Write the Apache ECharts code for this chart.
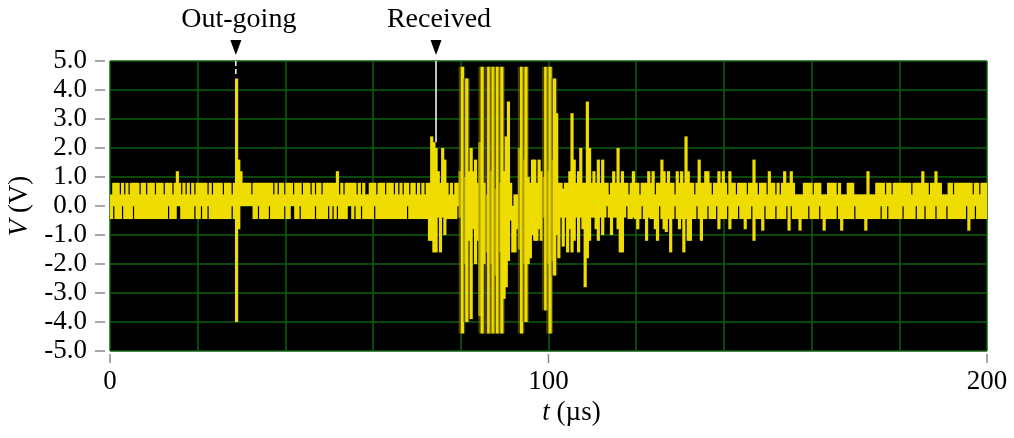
<!DOCTYPE html>
<html><head><meta charset="utf-8">
<script src="https://cdn.jsdelivr.net/npm/echarts@6/dist/echarts.min.js"></script>
<style>html,body{margin:0;padding:0;background:#fff}#c{width:1014px;height:438px}</style>
</head><body><div id="c"></div>
<script>
// sampling bin width (µs); bin i spans [i*binWidth, (i+1)*binWidth]
const binWidth = 0.5;
// per-bin maximum of the trace (V), 20 bins per row (10 µs)
const vHigh = [
0.4,0.8,0.8,0.8,0.4,0.8,0.4,0.8,0.4,0.8, 0.8,0.8,0.8,0.4,0.8,0.8,0.4,0.8,0.8,0.8,
0.4,0.8,0.8,0.8,0.4,0.8,0.8,0.8,0.4,0.8, 1.2,0.8,0.4,0.8,0.4,0.8,0.4,0.8,0.4,0.8,
0.8,0.8,0.8,0.8,0.4,0.8,0.4,0.8,0.8,0.8, 0.8,0.4,0.8,0.8,0.8,0.4,0.8,4.4,1.6,1.2,
0.8,0.8,0.8,0.8,0.4,0.8,0.8,0.8,0.8,0.8, 0.8,0.8,0.8,0.8,0.4,0.8,0.4,0.8,0.8,0.4,
0.8,0.8,0.8,0.4,0.8,0.8,0.8,0.4,0.8,0.8, 0.8,0.4,0.8,0.4,0.8,0.8,0.4,0.8,0.8,0.8,
0.8,0.8,0.8,1.2,0.4,0.8,0.4,0.8,0.8,0.8, 0.8,0.8,0.4,0.8,0.4,0.8,0.4,0.4,0.8,0.8,
0.8,0.4,0.8,0.8,0.8,0.4,0.8,0.8,0.8,0.4, 0.8,0.4,0.8,0.4,0.8,0.8,0.4,0.8,0.8,0.4,
0.8,0.4,0.8,0.4,0.8,0.8,2.4,2.2,2.0,1.2, 0.8,2.0,1.6,0.8,0.4,0.8,0.4,0.8,0.8,1.2,
4.8,1.0,4.4,1.2,2.0,1.2,1.6,0.8,2.2,4.8, 0.8,0.4,4.8,1.2,4.8,0.6,4.8,0.8,4.8,1.2,
2.4,3.6,0.8,0.0,0.4,0.4,2.0,4.8,1.6,4.8, 1.0,0.8,1.6,1.6,0.8,1.6,1.2,1.0,4.8,1.2,
4.8,1.6,4.4,3.2,0.8,0.8,0.6,0.8,0.8,1.2, 3.2,1.6,0.8,1.2,2.0,0.8,0.8,3.6,2.0,0.8,
1.2,0.8,1.6,0.8,1.6,0.8,0.8,0.4,0.8,1.2, 0.8,2.0,0.8,1.2,0.8,0.8,0.4,0.8,1.2,0.8,
0.8,0.4,0.8,0.8,0.8,1.2,0.8,1.2,0.4,0.8, 0.8,1.6,1.2,0.8,1.2,0.8,0.8,0.4,1.2,0.8,
1.2,0.8,2.4,1.2,0.8,0.8,0.4,0.8,1.6,0.8, 0.8,1.2,1.2,0.8,0.4,0.8,0.8,1.2,0.8,1.2,
0.8,0.4,1.2,0.8,0.8,0.4,0.8,0.8,0.8,0.8, 0.4,0.8,0.8,1.6,0.8,0.4,0.8,0.8,0.8,0.4,
1.2,0.8,0.8,0.4,0.8,0.4,0.8,1.2,0.8,0.8, 1.2,0.8,0.4,0.4,0.4,0.4,0.8,0.8,0.8,0.8,
0.4,0.8,0.8,0.8,0.4,0.4,0.4,0.8,0.8,0.8, 0.8,0.4,0.8,0.4,0.4,0.4,0.8,0.8,0.8,0.4,
0.4,0.4,0.4,0.4,0.4,1.2,0.4,0.4,0.4,0.8, 0.8,0.8,0.8,0.4,0.8,0.8,0.4,0.8,0.8,0.8,
0.8,0.8,0.8,0.8,0.8,0.4,0.8,0.8,0.8,0.8, 1.2,0.8,0.8,0.4,0.8,0.8,1.2,0.8,0.8,0.4,
0.4,0.4,0.8,0.8,0.4,0.8,0.8,0.8,0.8,0.8, 0.8,0.8,0.8,0.4,0.8,0.8,0.4,0.8,0.8,0.8
];
// per-bin minimum of the trace (V)
const vLow = [
-0.45,0,-0.45,-0.45,-0.45,0,-0.45,-0.45,-0.45,-0.45, 0,-0.45,-0.45,-0.45,-0.45,-0.45,-0.45,-0.45,-0.45,-0.45,
-0.45,-0.45,-0.45,-0.45,-0.45,-0.45,0,-0.45,-0.45,-0.45, 0,0,-0.45,-0.45,-0.45,-0.45,-0.45,-0.45,0,-0.45,
-0.45,0,-0.45,-0.45,0,-0.45,-0.45,-0.45,-0.45,-0.45, -0.45,-0.45,-0.45,-0.45,-0.45,0,-0.45,-4.0,-0.8,0,
0,0,0,0,0,-0.45,-0.45,0,-0.45,-0.45, -0.45,-0.45,0,-0.45,-0.45,-0.45,-0.45,-0.45,-0.45,0,
-0.45,-0.45,0,0,-0.45,-0.45,0,-0.45,-0.45,-0.45, -0.45,-0.45,-0.45,0,-0.45,-0.45,-0.45,-0.45,-0.45,0,
-0.45,0,-0.45,0,-0.45,-0.45,-0.45,-0.45,0,0, -0.45,0,-0.45,-0.45,0,-0.45,-0.45,-0.45,-0.45,-0.45,
0,-0.45,-0.45,-0.45,-0.45,-0.45,-0.45,-0.45,-0.45,-0.45, -0.45,-0.45,-0.45,-0.45,-0.45,0,-0.45,-0.45,-0.45,-0.45,
-0.45,-0.45,-0.45,-0.45,-0.45,-1.2,-1.2,-1.6,-1.6,-0.4, -1.6,-0.4,-1.0,-0.45,-0.45,-0.45,-0.45,-0.45,0,-0.4,
-4.4,-2.0,-4.0,-1.2,-3.9,-0.8,-2.0,-1.2,-3.8,-4.4, -2.0,-1.6,-4.4,-2.0,-4.4,-2.4,-4.4,-1.6,-4.4,-3.2,
-2.8,-1.9,-0.5,-1.6,-1.6,-0.8,-1.5,-4.4,-2.0,-4.0, -2.0,-1.8,-1.0,-1.2,-1.2,-0.8,-1.2,-0.4,-3.6,-2.0,
-4.4,-1.9,-2.4,-1.0,-1.8,-0.4,-1.4,-0.4,-1.6,-0.8, -1.6,-1.2,-0.4,-1.6,-0.4,-0.8,-2.8,-1.8,-1.2,-0.4,
-0.4,-0.8,-1.2,-0.4,-1.0,-0.4,0,-0.4,-1.0,-0.4, -0.4,-0.8,-1.6,-1.6,-0.4,0,-0.45,-0.45,-0.4,-0.45,
-0.8,-0.45,0,-0.45,-1.2,-0.4,-0.45,-0.45,-0.8,-1.2, 0,-0.45,-0.8,-0.9,-0.45,-1.6,-0.45,0,-0.45,-0.8,
-0.45,-1.6,-0.45,-1.2,-1.2,-0.45,-0.45,0,-0.45,-1.2, -0.45,-0.45,0,-0.45,-0.45,-0.45,0,-0.8,-0.45,-0.45,
-0.45,0,-0.8,-0.45,-0.45,-0.45,0,-0.45,-0.45,-0.8, -0.45,-0.45,0,-1.2,-0.45,-0.45,-0.45,-0.85,0,-0.45,
-0.45,-0.45,-0.45,0,-0.45,-0.45,-0.45,-0.45,0,-0.85, 0,-0.45,-0.45,-0.45,-0.85,-0.45,-0.45,-0.45,0,-0.45,
-0.45,-0.45,-0.45,0,-0.45,-0.85,-0.45,-0.45,-0.45,-0.45, -0.45,0,-0.45,-0.85,-0.45,-0.45,-0.45,-0.45,-0.45,0,
-0.45,-0.45,-0.45,-0.45,-0.85,-0.45,-0.45,-0.45,-0.45,-0.45, -0.45,0,-0.45,-0.45,0,-0.45,-0.45,-0.45,-0.45,-0.45,
-0.45,0,-0.45,-0.45,-0.45,-0.45,-0.45,0,-0.45,-0.45, -0.45,0,-0.45,-0.45,-0.45,-0.45,0,-0.45,-0.45,-0.45,
-0.45,0,-0.45,-0.45,-0.45,-0.45,-0.45,-0.45,-0.45,-0.45, 0,-0.85,-0.45,-0.45,0,-0.45,-0.45,-0.45,-0.45,-0.45
];
// annotations
const markerNames = ['Out-going', 'Received'];
const markerTimes = [28.7, 74.35];
const markerEnds = [4.55, 2.2];
// axis ticks
const xTickValues = [0, 100, 200];
const yTickValues = [-5, -4, -3, -2, -1, 0, 1, 2, 3, 4, 5];

const FONT = '"Liberation Serif","Times New Roman",serif';
const YELLOW = '#efdc00';
const OLIVE = 'rgba(125,115,0,0.55)';
const GRIDGREEN = '#0d5e0d';
const TICKGREY = '#8a8a8a';

const binData = vHigh.map((h, i) => [i * binWidth, (i + 1) * binWidth, vLow[i], h]);
const binRange = i => (i >= 0 && i < vHigh.length) ? vHigh[i] - vLow[i] : 0;

const chart = echarts.init(document.getElementById('c'), null, {renderer: 'canvas'});
const markerSeries = markerTimes.map((t, i) => ({
  type: 'line', xAxisIndex: 0, yAxisIndex: 0, symbol: 'none', silent: true,
  data: [[t, 5], [t, markerEnds[i]]],
  lineStyle: {color: '#ffffff', width: 1.5, type: i === 0 ? [5, 3] : 'solid'},
  z: 5
}));

chart.setOption({
  animation: false,
  backgroundColor: '#ffffff',
  grid: {left: 110, right: 27, top: 61, bottom: 87, show: true, backgroundColor: '#000000', borderWidth: 0,
    containLabel: false, outerBoundsMode: 'none'},
  xAxis: [{
    type: 'value', min: 0, max: 200, interval: 20,
    axisLine: {show: false}, axisTick: {show: false}, axisLabel: {show: false},
    splitLine: {show: true, lineStyle: {color: GRIDGREEN, width: 1.5}}
  }, {
    type: 'value', min: 0, max: 200, interval: 100, position: 'bottom', offset: 3,
    axisLine: {show: false},
    axisTick: {show: false},
    axisLabel: {fontFamily: FONT, fontSize: 27, color: '#000', margin: 14},
    splitLine: {show: false},
    name: '{i|t} (µs)', nameLocation: 'middle', nameGap: 45,
    nameTextStyle: {fontFamily: FONT, fontSize: 27, color: '#000', padding: [0, 0, 0, 46],
      rich: {i: {fontFamily: FONT, fontSize: 27, fontStyle: 'italic', color: '#000'}}}
  }],
  yAxis: {
    type: 'value', min: -5, max: 5, interval: 1, offset: 5,
    axisLine: {show: false},
    axisTick: {show: false},
    axisLabel: {fontFamily: FONT, fontSize: 27, color: '#000', margin: 18, formatter: v => v.toFixed(1)},
    splitLine: {show: true, lineStyle: {color: GRIDGREEN, width: 1.5}},
    name: '{i|V} (V)', nameLocation: 'middle', nameRotate: 90, nameGap: 72,
    nameTextStyle: {fontFamily: FONT, fontSize: 27, color: '#000',
      rich: {i: {fontFamily: FONT, fontSize: 27, fontStyle: 'italic', color: '#000'}}}
  },
  series: [{
    type: 'custom', xAxisIndex: 0, yAxisIndex: 0, silent: true, clip: true,
    encode: {x: [0, 1], y: [2, 3]},
    data: binData,
    renderItem: function (params, api) {
      const i = params.dataIndex;
      const p0 = api.coord([api.value(0), api.value(3)]);
      const p1 = api.coord([api.value(1), api.value(2)]);
      const w = p1[0] - p0[0];
      const h = p1[1] - p0[1];
      const children = [];
      // trace blur between consecutive full swings (only inside the burst)
      const neighbourSwing = Math.max(binRange(i - 2), binRange(i - 1), binRange(i + 1), binRange(i + 2));
      if (binRange(i) > 6 && neighbourSwing > 3) {
        children.push({type: 'rect', shape: {x: p0[0] - 2.2, y: p0[1], width: w + 4.4, height: h},
          style: {fill: OLIVE}});
      }
      children.push({type: 'rect', shape: {x: p0[0], y: p0[1], width: w + 1.0, height: h},
        style: {fill: YELLOW}});
      return {type: 'group', children: children};
    },
    z: 3
  }].concat(markerSeries)
});

const g = [];
// tick marks, placed through the axes' own scales
yTickValues.forEach(v => {
  const p = chart.convertToPixel({xAxisIndex: 0, yAxisIndex: 0}, [0, v]);
  g.push({type: 'line', silent: true, shape: {x1: p[0] - 15, y1: p[1], x2: p[0] - 5, y2: p[1]},
    style: {stroke: TICKGREY, lineWidth: 1.5}});
});
xTickValues.forEach(v => {
  const p = chart.convertToPixel({xAxisIndex: 0, yAxisIndex: 0}, [v, -5]);
  g.push({type: 'line', silent: true, shape: {x1: p[0], y1: p[1] + 3, x2: p[0], y2: p[1] + 12},
    style: {stroke: TICKGREY, lineWidth: 1.5}});
});
markerTimes.forEach((t, i) => {
  const p = chart.convertToPixel({xAxisIndex: 0, yAxisIndex: 0}, [t, 5]);
  g.push({type: 'polygon', silent: true,
    shape: {points: [[p[0] - 5.5, p[1] - 21], [p[0] + 5.5, p[1] - 21], [p[0], p[1] - 6]]},
    style: {fill: '#000'}});
  g.push({type: 'text', silent: true, x: p[0] + 3, y: p[1] - 41,
    style: {text: markerNames[i], font: '28px ' + FONT, fill: '#000', align: 'center', verticalAlign: 'middle'}});
});
chart.setOption({graphic: g});
</script>
</body></html>
